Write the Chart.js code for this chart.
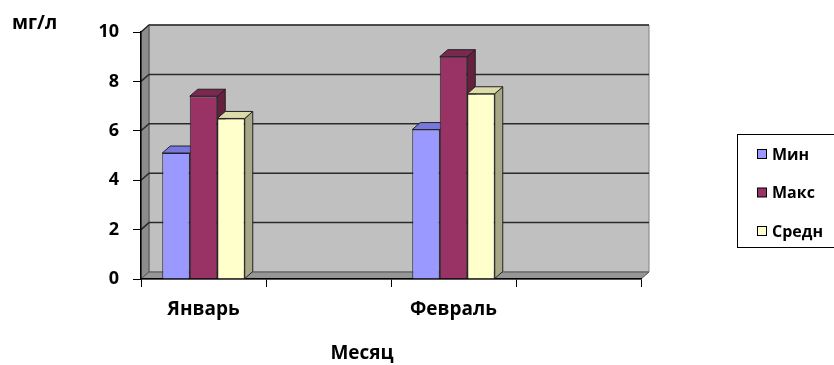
<!DOCTYPE html>
<html>
<head>
<meta charset="utf-8">
<script src="https://cdn.jsdelivr.net/npm/chart.js@4"></script>
<style>
  html, body { margin: 0; padding: 0; background: #fff; }
  #wrap { width: 834px; height: 365px; position: relative; }
</style>
</head>
<body>
<div id="wrap"><canvas id="grafico"></canvas></div>
<script>
// --- datos ---
const meses = ['Январь', '', 'Февраль', ''];
const valMin = [5.1, null, 6.05, null];
const valMax = [7.4, null, 9.0, null];
const valSredn = [6.5, null, 7.5, null];
const nombresSeries = ['Мин', 'Макс', 'Средн'];
const ticksY = [0, 2, 4, 6, 8, 10];

const FUENTE = '"Open Sans", "DejaVu Sans", sans-serif';
const colores = ['#9999ff', '#993366', '#ffffcc'];
const coloresTapa = ['#7777dd', '#7a2850', '#dcdcaa'];
const coloresLado = ['#6666bb', '#66203f', '#a8a888'];
const PROF = { dx: 8, dy: 7 };

function poligono(ctx, pts, relleno, borde) {
    ctx.beginPath();
    ctx.moveTo(pts[0][0], pts[0][1]);
    for (let i = 1; i < pts.length; i++) ctx.lineTo(pts[i][0], pts[i][1]);
    ctx.closePath();
    if (relleno) { ctx.fillStyle = relleno; ctx.fill(); }
    if (borde) { ctx.strokeStyle = borde; ctx.lineWidth = 1; ctx.stroke(); }
}

// paredes, suelo y líneas de la rejilla en 3D
const paredes = {
    id: 'paredes',
    beforeDraw(chart) {
        const { ctx, chartArea: a, scales } = chart;
        const { dx, dy } = PROF;
        ctx.save();
        // pared del fondo
        poligono(ctx, [[a.left + dx, a.top - dy], [a.right + dx, a.top - dy],
                       [a.right + dx, a.bottom - dy], [a.left + dx, a.bottom - dy]], '#c0c0c0', '#808080');
        // pared izquierda
        poligono(ctx, [[a.left, a.top], [a.left + dx, a.top - dy],
                       [a.left + dx, a.bottom - dy], [a.left, a.bottom]], '#8c8c8c', '#555');
        // suelo
        poligono(ctx, [[a.left, a.bottom], [a.left + dx, a.bottom - dy],
                       [a.right + dx, a.bottom - dy], [a.right, a.bottom]], '#969696', '#555');
        // rejilla
        ctx.strokeStyle = '#2a2a2a';
        ctx.lineWidth = 1.5;
        ticksY.forEach(v => {
            if (v === 0) return;
            const y = scales.y.getPixelForValue(v);
            ctx.beginPath();
            ctx.moveTo(a.left, y);
            ctx.lineTo(a.left + dx, y - dy);
            ctx.lineTo(a.right + dx, y - dy);
            ctx.stroke();
        });
        ctx.restore();
    },
    // caras laterales y superiores de las columnas
    beforeDatasetsDraw(chart) {
        const { ctx } = chart;
        const { dx, dy } = PROF;
        ctx.save();
        meses.forEach((m, j) => {
            for (let i = 0; i < chart.data.datasets.length; i++) {
                const bar = chart.getDatasetMeta(i).data[j];
                const v = chart.data.datasets[i].data[j];
                if (!bar || v === null) continue;
                const x0 = bar.x - bar.width / 2, x1 = bar.x + bar.width / 2;
                const y = bar.y, b = bar.base;
                poligono(ctx, [[x1, y], [x1 + dx, y - dy], [x1 + dx, b - dy], [x1, b]], coloresLado[i], '#222');
                poligono(ctx, [[x0, y], [x0 + dx, y - dy], [x1 + dx, y - dy], [x1, y]], coloresTapa[i], '#222');
            }
        });
        ctx.restore();
    },
    // títulos de los ejes y leyenda con marco
    afterDraw(chart) {
        const { ctx } = chart;
        ctx.save();
        ctx.fillStyle = '#000';
        ctx.font = 'bold 19px ' + FUENTE;
        ctx.textBaseline = 'middle';
        ctx.textAlign = 'left';
        ctx.fillText('мг/л', 12, 24);
        ctx.textAlign = 'center';
        ctx.fillText('Месяц', 362, 354);

        // leyenda
        ctx.strokeStyle = '#000';
        ctx.lineWidth = 1;
        ctx.strokeRect(737.5, 134.5, 110, 113);
        ctx.textAlign = 'left';
        ctx.font = 'bold 16px ' + FUENTE;
        nombresSeries.forEach((n, i) => {
            const yc = 155 + i * 38.5;
            ctx.fillStyle = colores[i];
            ctx.fillRect(757.5, yc - 5.5, 9, 9);
            ctx.strokeRect(757.5, yc - 5.5, 9, 9);
            ctx.fillStyle = '#000';
            ctx.fillText(n, 772, yc);
        });
        ctx.restore();
    }
};

const datasets = [valMin, valMax, valSredn].map((d, i) => ({
    label: nombresSeries[i],
    data: d,
    backgroundColor: colores[i],
    borderColor: '#222',
    borderWidth: 1,
    categoryPercentage: 0.66,
    barPercentage: 1
}));

new Chart(document.getElementById('grafico'), {
    type: 'bar',
    data: { labels: meses, datasets: datasets },
    options: {
        responsive: true,
        maintainAspectRatio: false,
        animation: false,
        layout: { padding: { left: 0, right: 193, top: 32, bottom: 0 } },
        plugins: {
            legend: { display: false },
            tooltip: { enabled: false }
        },
        scales: {
            x: {
                grid: { drawOnChartArea: false, drawTicks: true, tickLength: 8, color: '#000', offset: true },
                border: { display: true, color: '#000', width: 1.5 },
                ticks: { color: '#000', font: { family: FUENTE, size: 19, weight: 'bold' }, padding: 11, maxRotation: 0 },
                afterFit(s) { s.height = 86; }
            },
            y: {
                min: 0,
                max: 10,
                grid: { drawOnChartArea: false, drawTicks: true, tickLength: 8, color: '#000' },
                border: { display: true, color: '#000', width: 1.5 },
                ticks: {
                    color: '#000', stepSize: 2, padding: 14,
                    font: { family: FUENTE, size: 18, weight: 'bold' }
                },
                afterFit(s) { s.width = 141; }
            }
        }
    },
    plugins: [paredes]
});
</script>
</body>
</html>
